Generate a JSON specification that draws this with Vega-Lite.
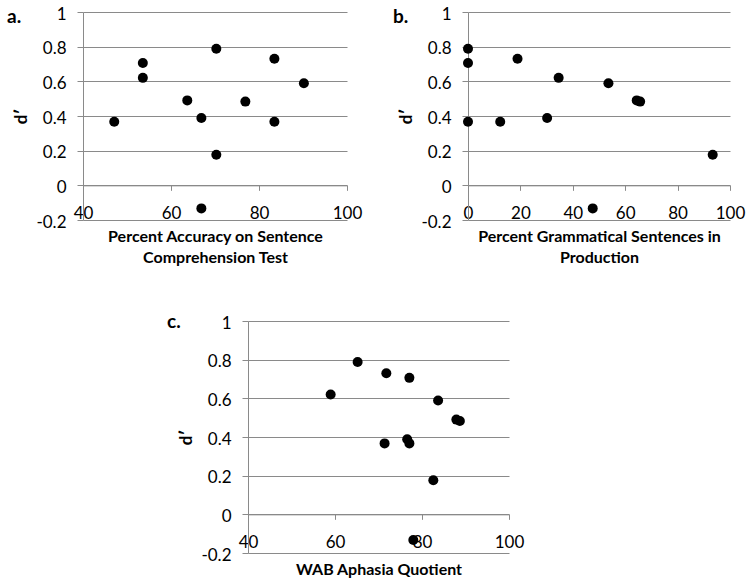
{
  "$schema": "https://vega.github.io/schema/vega-lite/v6.json",
  "padding": {"left": 7, "top": 5, "right": 5, "bottom": 5},
  "background": "white",
  "data": {"values": [
    {"acc": 70.3, "gram": 0, "wab": 65.2, "d": 0.788},
    {"acc": 53.6, "gram": 0, "wab": 77.1, "d": 0.706},
    {"acc": 83.5, "gram": 18.9, "wab": 71.8, "d": 0.730},
    {"acc": 53.6, "gram": 34.6, "wab": 59.0, "d": 0.620},
    {"acc": 90.2, "gram": 53.6, "wab": 83.7, "d": 0.589},
    {"acc": 63.7, "gram": 64.4, "wab": 87.9, "d": 0.490},
    {"acc": 76.9, "gram": 65.7, "wab": 88.7, "d": 0.483},
    {"acc": 66.9, "gram": 30.2, "wab": 76.6, "d": 0.388},
    {"acc": 47.1, "gram": 0, "wab": 71.4, "d": 0.367},
    {"acc": 83.5, "gram": 12.3, "wab": 77.1, "d": 0.367},
    {"acc": 70.3, "gram": 93.4, "wab": 82.6, "d": 0.176},
    {"acc": 66.9, "gram": 47.6, "wab": 78.0, "d": -0.133}
  ]},
  "bounds": "full",
  "spacing": 47,
  "vconcat": [
    {
      "bounds": "flush",
      "spacing": 121,
      "hconcat": [
        {
          "width": 264, "height": 208,
          "title": {"text": "a.", "anchor": "start", "frame": "group", "orient": "top", "offset": 0, "baseline": "alphabetic", "dx": -76, "dy": 37},
          "mark": {"type": "circle", "size": 100, "color": "black", "opacity": 1},
          "encoding": {
            "x": {"field": "acc", "type": "quantitative", "scale": {"domain": [40, 100], "nice": false, "zero": false},
                  "axis": {"values": [40, 60, 80, 100], "offset": -34.667, "grid": false, "title": ["Percent Accuracy on Sentence", "Comprehension Test"]}},
            "y": {"field": "d", "type": "quantitative", "scale": {"domain": [-0.2, 1], "nice": false, "zero": false},
                  "axis": {"values": [-0.2, 0, 0.2, 0.4, 0.6, 0.8, 1], "title": "d′"}}
          }
        },
        {
          "width": 262, "height": 208,
          "title": {"text": "b.", "anchor": "start", "frame": "group", "orient": "top", "offset": 0, "baseline": "alphabetic", "dx": -75, "dy": 37},
          "mark": {"type": "circle", "size": 100, "color": "black", "opacity": 1},
          "encoding": {
            "x": {"field": "gram", "type": "quantitative", "scale": {"domain": [0, 100], "nice": false},
                  "axis": {"values": [0, 20, 40, 60, 80, 100], "offset": -34.667, "grid": false, "title": ["Percent Grammatical Sentences in", "Production"]}},
            "y": {"field": "d", "type": "quantitative", "scale": {"domain": [-0.2, 1], "nice": false, "zero": false},
                  "axis": {"values": [-0.2, 0, 0.2, 0.4, 0.6, 0.8, 1], "title": "d′"}}
          }
        }
      ]
    },
    {
      "bounds": "flush",
      "spacing": 20,
      "hconcat": [
        {
          "width": 145, "height": 1,
          "data": {"values": []},
          "mark": {"type": "point", "opacity": 0},
          "encoding": {}
        },
        {
          "width": 261, "height": 232,
          "title": {"text": "c.", "anchor": "start", "frame": "group", "orient": "top", "offset": 0, "baseline": "alphabetic", "dx": -81, "dy": 33},
          "mark": {"type": "circle", "size": 100, "color": "black", "opacity": 1},
          "encoding": {
            "x": {"field": "wab", "type": "quantitative", "scale": {"domain": [40, 100], "nice": false, "zero": false},
                  "axis": {"values": [40, 60, 80, 100], "offset": -38.667, "grid": false, "titlePadding": 11, "title": "WAB Aphasia Quotient"}},
            "y": {"field": "d", "type": "quantitative", "scale": {"domain": [-0.2, 1], "nice": false, "zero": false},
                  "axis": {"values": [-0.2, 0, 0.2, 0.4, 0.6, 0.8, 1], "title": "d′"}}
          }
        }
      ]
    }
  ],
  "config": {
    "view": {"stroke": null},
    "font": "Lato",
    "title": {"font": "Lato", "fontSize": 19, "fontWeight": "bold", "color": "black"},
    "axis": {
      "labelFont": "Lato", "labelFontSize": 17, "labelColor": "black",
      "titleFont": "Lato", "titleFontSize": 16, "titleFontWeight": "bold", "titleColor": "black",
      "domainColor": "#8a8a8a", "tickColor": "#8a8a8a", "gridColor": "#8a8a8a", "gridOpacity": 1,
      "domainWidth": 1, "tickWidth": 1, "gridWidth": 1,
      "labelFlush": false, "labelOverlap": false, "labelBound": false,
      "labelExpr": "replace(format(datum.value, '~g'), '\u2212', '-')"
    },
    "axisX": {"tickSize": 5, "labelPadding": 15, "titlePadding": 7, "titleLineHeight": 21},
    "axisY": {"tickSize": 6, "labelPadding": 11, "labelOffset": 2, "grid": true, "titlePadding": 5, "titleFontSize": 17}
  }
}
